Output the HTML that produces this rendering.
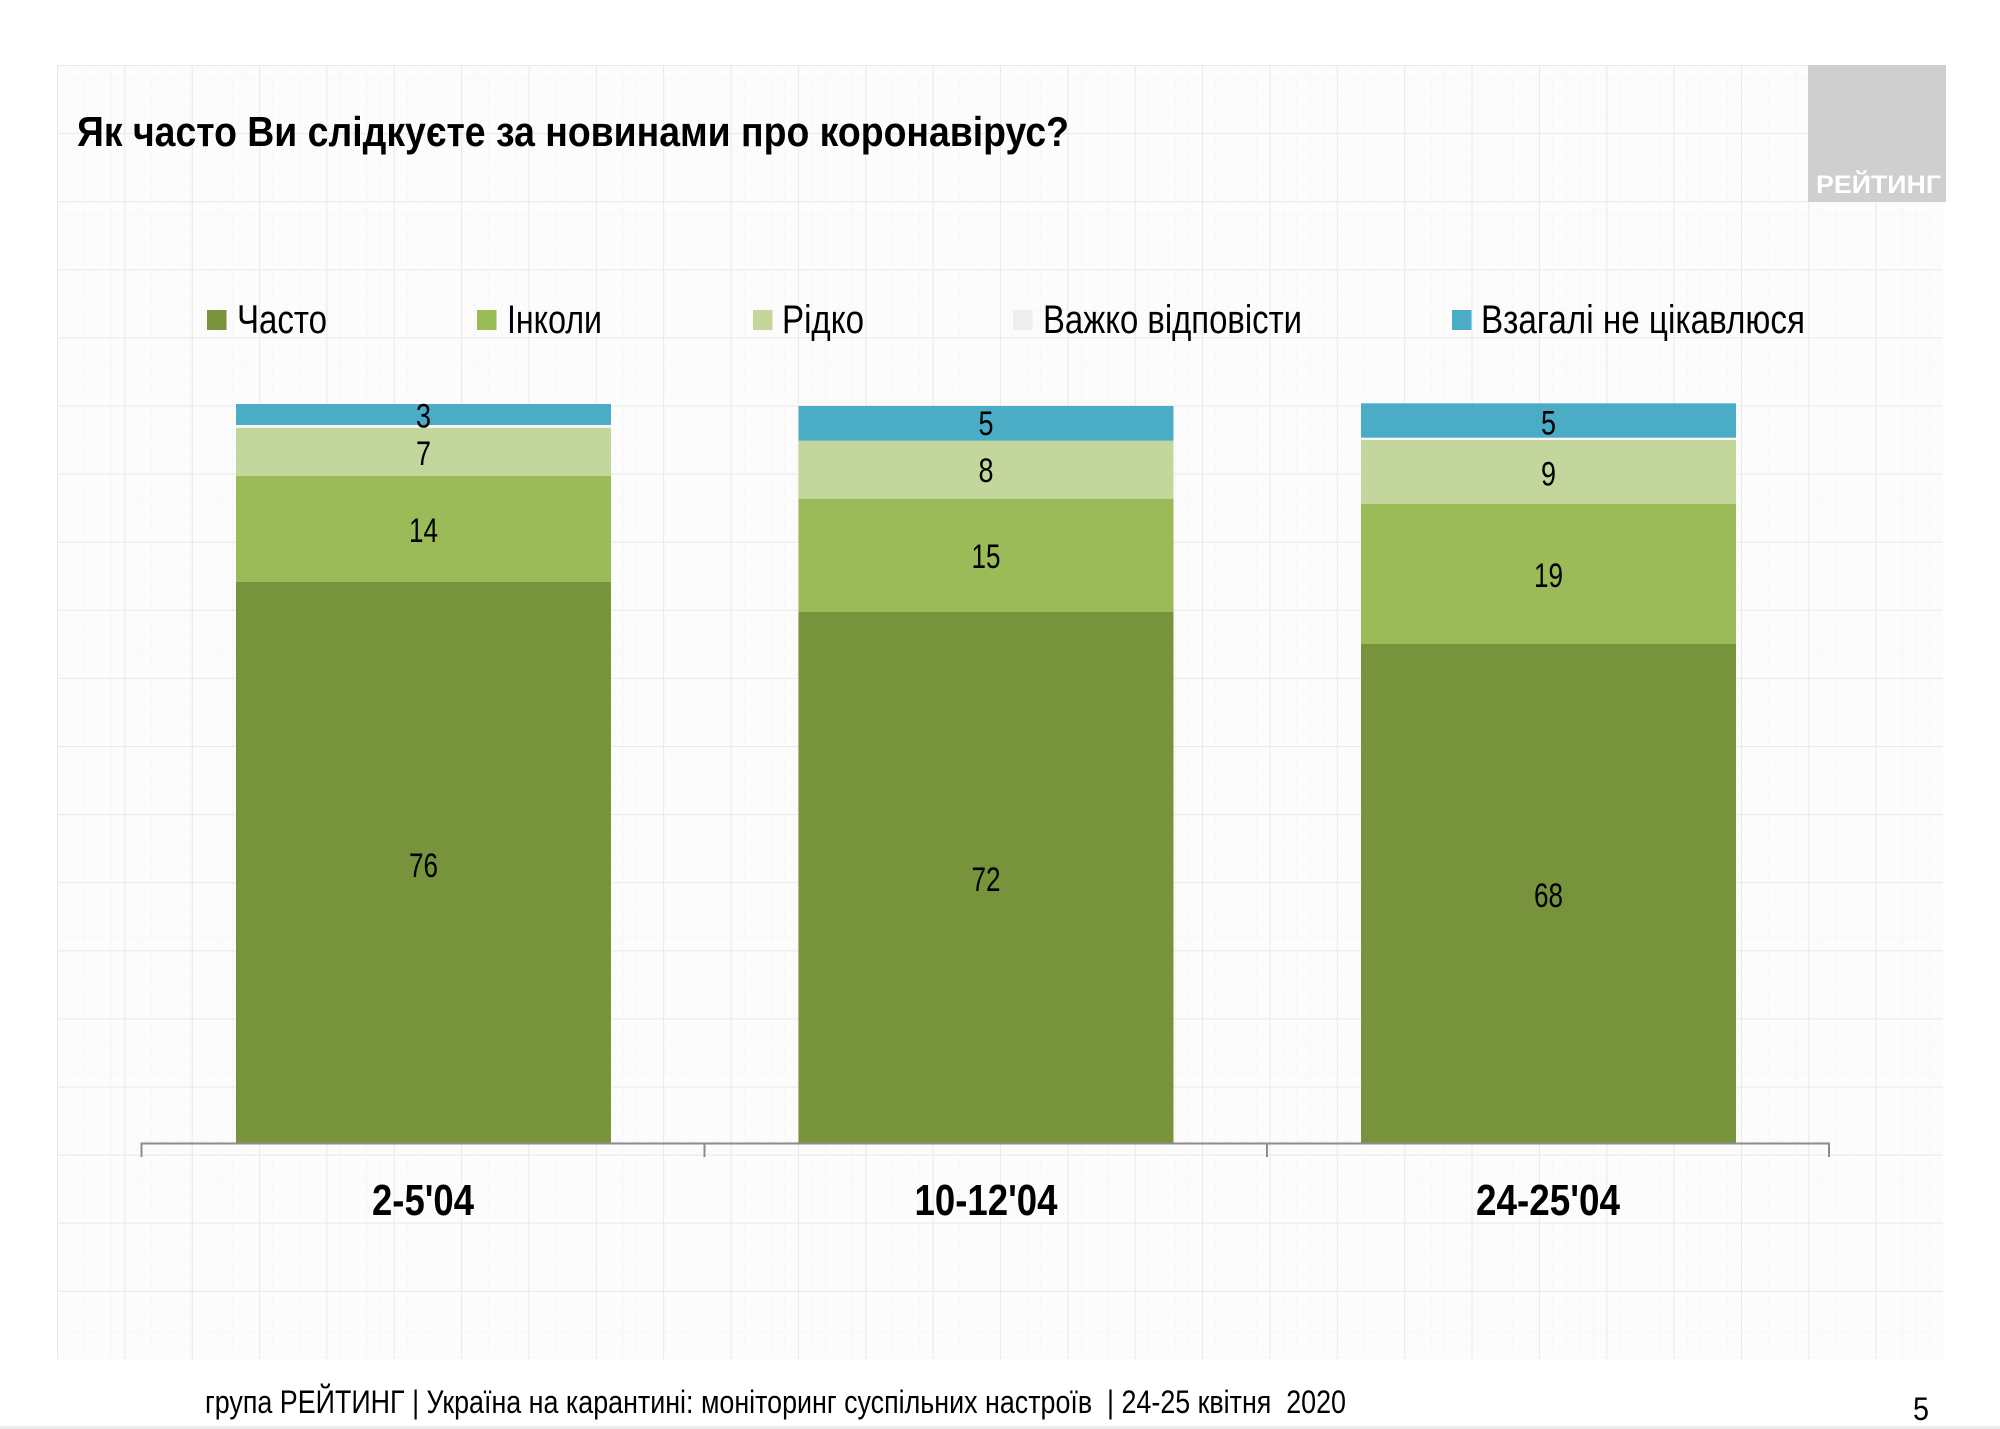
<!DOCTYPE html>
<html>
<head>
<meta charset="utf-8">
<style>
html,body{margin:0;padding:0;background:#fff;}
svg{display:block;}
text{font-family:"Liberation Sans","DejaVu Sans",sans-serif;}
</style>
</head>
<body>
<svg width="2000" height="1429" viewBox="0 0 2000 1429" xmlns="http://www.w3.org/2000/svg">
  <defs>
    <pattern id="minor" x="57" y="65" width="13.472" height="13.62" patternUnits="userSpaceOnUse">
      <path d="M0 0 H13.472 M0 0 V13.62" stroke="#f3f3f3" stroke-width="1" fill="none"/>
    </pattern>
    <pattern id="major" x="57" y="65" width="67.36" height="68.1" patternUnits="userSpaceOnUse">
      <path d="M0 0.5 H67.36 M0.5 0 V68.1" stroke="#e9e9e9" stroke-width="1" fill="none"/>
    </pattern>
  </defs>
  <rect x="0" y="0" width="2000" height="1429" fill="#ffffff"/>
  <!-- grid paper region -->
  <rect x="57" y="65" width="1886" height="1294" fill="#fcfcfc"/>
  <rect x="57" y="65" width="1886" height="1294" fill="url(#minor)"/>
  <rect x="57" y="65" width="1886" height="1294" fill="url(#major)"/>
  <rect x="0" y="1426" width="2000" height="3" fill="#ececec"/>

  <!-- logo -->
  <rect x="1808" y="65" width="138" height="137" fill="#cfcfcf"/>
  <text x="1816" y="193" font-size="25" font-weight="bold" fill="#ffffff" textLength="125" lengthAdjust="spacingAndGlyphs">РЕЙТИНГ</text>

  <!-- title -->
  <text x="77" y="146" font-size="42" font-weight="bold" fill="#000" textLength="992" lengthAdjust="spacingAndGlyphs">Як часто Ви слідкуєте за новинами про коронавірус?</text>

  <!-- legend -->
  <rect x="207" y="310" width="19.5" height="20" fill="#77933C"/>
  <text x="237" y="333" font-size="40" fill="#000" textLength="90" lengthAdjust="spacingAndGlyphs">Часто</text>
  <rect x="477" y="310" width="19.5" height="20" fill="#9BBB59"/>
  <text x="507" y="333" font-size="40" fill="#000" textLength="95" lengthAdjust="spacingAndGlyphs">Інколи</text>
  <rect x="753" y="310" width="19.5" height="20" fill="#C3D69B"/>
  <text x="782" y="333" font-size="40" fill="#000" textLength="82" lengthAdjust="spacingAndGlyphs">Рідко</text>
  <rect x="1013" y="310" width="19.5" height="20" fill="#EEEEEE"/>
  <text x="1043" y="333" font-size="40" fill="#000" textLength="259" lengthAdjust="spacingAndGlyphs">Важко відповісти</text>
  <rect x="1452" y="310" width="19.5" height="20" fill="#4BACC6"/>
  <text x="1481" y="333" font-size="40" fill="#000" textLength="324" lengthAdjust="spacingAndGlyphs">Взагалі не цікавлюся</text>

  <!-- bar 1 -->
  <rect x="236" y="582" width="375" height="561" fill="#77933C"/>
  <rect x="236" y="476" width="375" height="106" fill="#9BBB59"/>
  <rect x="236" y="427.7" width="375" height="48.3" fill="#C3D69B"/>
  <rect x="236" y="425" width="375" height="2.7" fill="#F7F7F7"/>
  <rect x="236" y="404" width="375" height="21" fill="#4BACC6"/>

  <!-- bar 2 -->
  <rect x="798.5" y="612" width="375" height="531" fill="#77933C"/>
  <rect x="798.5" y="499" width="375" height="113" fill="#9BBB59"/>
  <rect x="798.5" y="440.7" width="375" height="58.3" fill="#C3D69B"/>
  <rect x="798.5" y="406" width="375" height="34.7" fill="#4BACC6"/>

  <!-- bar 3 -->
  <rect x="1361" y="644" width="375" height="499" fill="#77933C"/>
  <rect x="1361" y="504" width="375" height="140" fill="#9BBB59"/>
  <rect x="1361" y="440" width="375" height="64" fill="#C3D69B"/>
  <rect x="1361" y="437.7" width="375" height="2.3" fill="#F7F7F7"/>
  <rect x="1361" y="403.3" width="375" height="34.4" fill="#4BACC6"/>

  <!-- data labels -->
  <g font-size="34" fill="#000" text-anchor="middle">
    <text x="423.5" y="427.5" textLength="15" lengthAdjust="spacingAndGlyphs">3</text>
    <text x="423.5" y="465" textLength="15" lengthAdjust="spacingAndGlyphs">7</text>
    <text x="423.5" y="542" textLength="29" lengthAdjust="spacingAndGlyphs">14</text>
    <text x="423.5" y="877" textLength="29" lengthAdjust="spacingAndGlyphs">76</text>

    <text x="986" y="435" textLength="15" lengthAdjust="spacingAndGlyphs">5</text>
    <text x="986" y="482" textLength="15" lengthAdjust="spacingAndGlyphs">8</text>
    <text x="986" y="568" textLength="29" lengthAdjust="spacingAndGlyphs">15</text>
    <text x="986" y="891" textLength="29" lengthAdjust="spacingAndGlyphs">72</text>

    <text x="1548.5" y="434.5" textLength="15" lengthAdjust="spacingAndGlyphs">5</text>
    <text x="1548.5" y="485.5" textLength="15" lengthAdjust="spacingAndGlyphs">9</text>
    <text x="1548.5" y="587" textLength="29" lengthAdjust="spacingAndGlyphs">19</text>
    <text x="1548.5" y="907" textLength="29" lengthAdjust="spacingAndGlyphs">68</text>
  </g>

  <!-- axis -->
  <path d="M141.5 1157 V1143.5 H1829 V1157 M704.5 1143.5 V1157 M1267 1143.5 V1157" stroke="#8c8c8c" stroke-width="2" fill="none"/>

  <!-- category labels -->
  <g font-size="44" font-weight="bold" fill="#000" text-anchor="middle">
    <text x="423" y="1215" textLength="102" lengthAdjust="spacingAndGlyphs">2-5'04</text>
    <text x="986" y="1215" textLength="143" lengthAdjust="spacingAndGlyphs">10-12'04</text>
    <text x="1548" y="1215" textLength="144" lengthAdjust="spacingAndGlyphs">24-25'04</text>
  </g>

  <!-- footer -->
  <text x="205" y="1413" font-size="32" fill="#000" style="white-space:pre" textLength="1141" lengthAdjust="spacingAndGlyphs">група РЕЙТИНГ | Україна на карантині: моніторинг суспільних настроїв  | 24-25 квітня  2020</text>
  <text x="1913" y="1420" font-size="32" fill="#000" textLength="16" lengthAdjust="spacingAndGlyphs">5</text>
</svg>
</body>
</html>
